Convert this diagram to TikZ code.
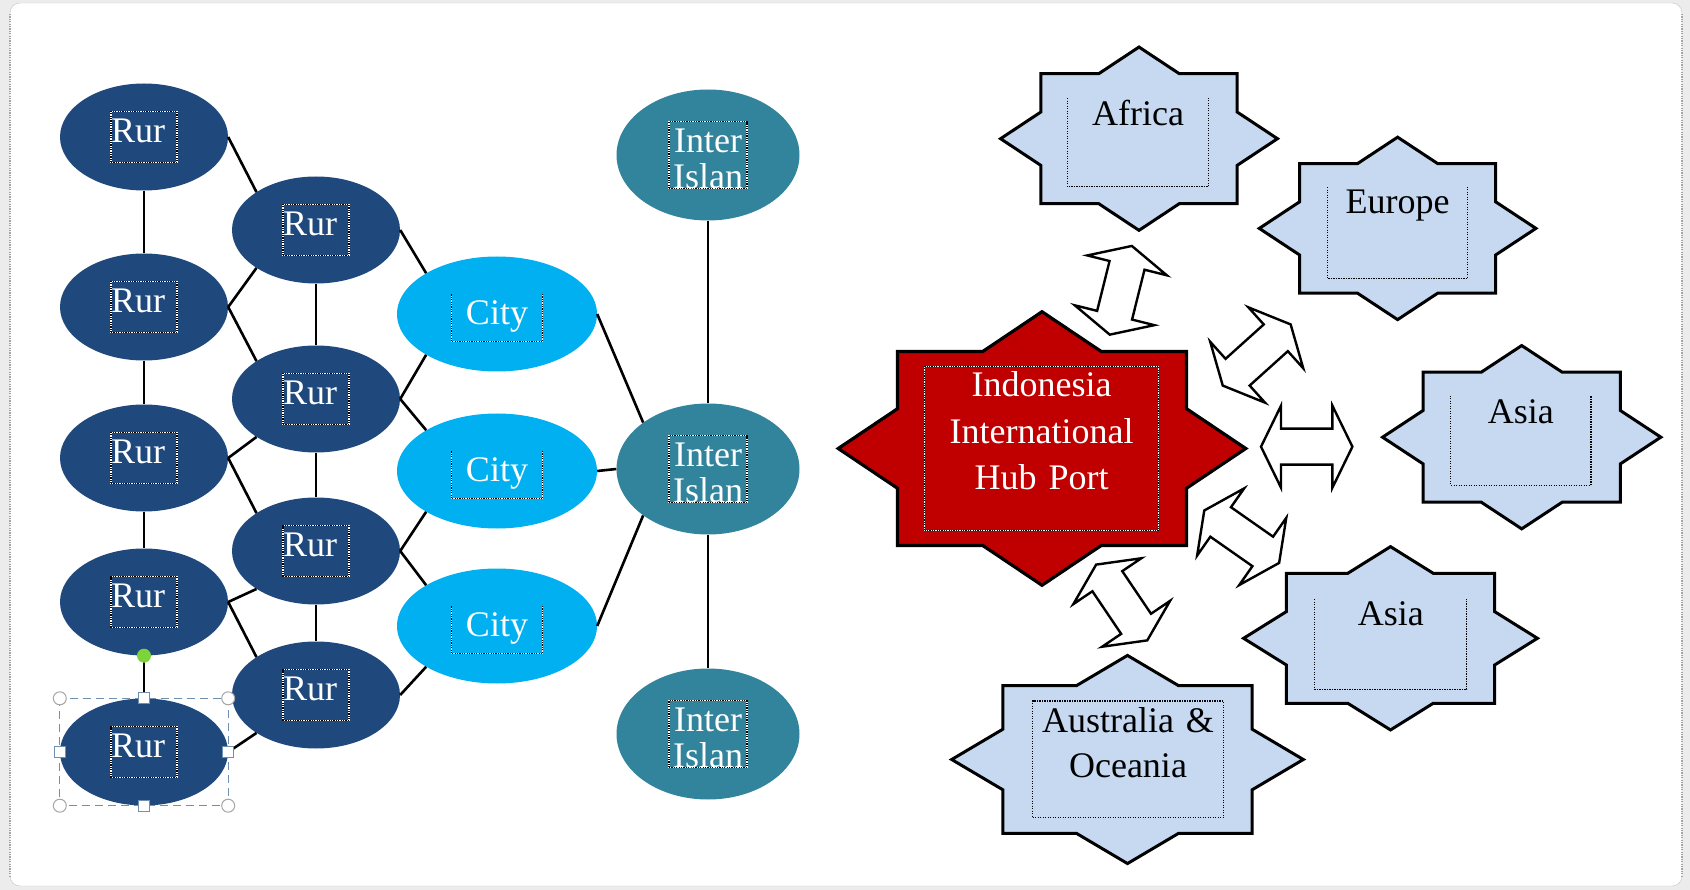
\documentclass[tikz,border=0pt]{standalone}
\usepackage{fontspec}
\setmainfont{Liberation Serif}
\usetikzlibrary{shapes.geometric}

\definecolor{rurblue}{HTML}{1F497D}
\definecolor{cityblue}{HTML}{00B0F0}
\definecolor{interteal}{HTML}{31849B}
\definecolor{hubred}{HTML}{C00000}
\definecolor{starblue}{HTML}{C6D9F1}
\definecolor{selgray}{HTML}{6F8FB0}
\definecolor{rotgreen}{HTML}{7DD33A}

\newcommand\eightstar[5]{%
  \path[#1] ({#2},{#3-1.41*#5}) -- ({#2+0.41*#4},{#3-#5}) -- ({#2+#4},{#3-#5})
    -- ({#2+#4},{#3-0.41*#5}) -- ({#2+1.41*#4},{#3}) -- ({#2+#4},{#3+0.41*#5})
    -- ({#2+#4},{#3+#5}) -- ({#2+0.41*#4},{#3+#5}) -- ({#2},{#3+1.41*#5})
    -- ({#2-0.41*#4},{#3+#5}) -- ({#2-#4},{#3+#5}) -- ({#2-#4},{#3+0.41*#5})
    -- ({#2-1.41*#4},{#3}) -- ({#2-#4},{#3-0.41*#5}) -- ({#2-#4},{#3-#5})
    -- ({#2-0.41*#4},{#3-#5}) -- cycle;}
\newcommand\portarrow[3]{%
  \draw[blockarrow, shift={(#1,#2)}, rotate=#3] (45.7,0) -- (25.7,41) -- (25.7,18)
    -- (-25.7,18) -- (-25.7,41) -- (-45.7,0) -- (-25.7,-41) -- (-25.7,-18)
    -- (25.7,-18) -- (25.7,-41) -- cycle;}

\begin{document}
\begin{tikzpicture}[
  x=1pt, y=-1pt,
  every node/.style={inner sep=0pt, font=\fontsize{36}{46}\selectfont},
  rur/.style={ellipse, fill=rurblue, minimum width=168pt, minimum height=107pt},
  city/.style={ellipse, fill=cityblue, minimum width=200pt, minimum height=115pt},
  inter/.style={ellipse, fill=interteal, minimum width=183pt, minimum height=131pt},
  antsbox/.style={draw=black, line width=1.2pt, dash pattern=on 1.2pt off 1.2pt,
    preaction={draw=white, solid, line width=1.2pt}},
  starbox/.style={draw=black, line width=1.1pt, dash pattern=on 1.2pt off 1.3pt},
  rurtext/.style={antsbox, text=white, text width=66pt, text height=31pt,
    text depth=20pt, align=left},
  citytext/.style={text=white, text width=91pt, text height=30pt,
    text depth=16.7pt, align=center},
  intertext/.style={antsbox, text=white, text width=78pt, text height=31pt,
    text depth=35.6pt, align=center, font=\fontsize{36}{35.5}\selectfont},
  startext/.style={text=black, align=center},
  link/.style={line width=2.6pt},
  hubshape/.style={draw=black, line width=3.2pt, fill=hubred, line join=miter},
  starshape/.style={draw=black, line width=3pt, fill=starblue, line join=miter},
  blockarrow/.style={draw=black, line width=2.4pt, fill=white, line join=miter},
  selframe/.style={draw=selgray, line width=1.3pt, dash pattern=on 8pt off 5pt},
  circhandle/.style={circle, draw=gray!70, fill=white, line width=1pt, minimum size=13pt},
  sqhandle/.style={rectangle, draw=selgray, fill=white, line width=1pt, minimum size=11pt},
  rothandle/.style={circle, fill=rotgreen, minimum size=14pt}
]
\useasboundingbox (0,0) rectangle (1690,890);
\fill[gray!15] (0,0) rectangle (1690,890);
\draw[gray!45, fill=white, rounded corners=10pt] (10,3) rectangle (1682,886);
\draw[gray!70, line width=1.2pt, dash pattern=on 1.2pt off 1.2pt] (10,14) -- (10,876);
\draw[gray!70, line width=1.2pt, dash pattern=on 1.2pt off 1.2pt] (1682,14) -- (1682,876);

\node[rur] (ra1) at (144,137) {};
\node[rur] (ra2) at (144,307) {};
\node[rur] (ra3) at (144,458) {};
\node[rur] (ra4) at (144,602) {};
\node[rur] (ra5) at (144,752) {};
\node[rur] (rb1) at (316,230) {};
\node[rur] (rb2) at (316,399) {};
\node[rur] (rb3) at (316,551) {};
\node[rur] (rb4) at (316,695) {};
\node[city] (c1) at (497,314) {};
\node[city] (c2) at (497,471) {};
\node[city] (c3) at (497,626) {};
\node[inter] (i1) at (708,155) {};
\node[inter] (i2) at (708,469) {};
\node[inter] (i3) at (708,734) {};

\draw[link] (ra1) -- (ra2);
\draw[link] (ra2) -- (ra3);
\draw[link] (ra3) -- (ra4);
\draw[link] (ra4) -- (ra5);
\draw[link] (rb1) -- (rb2);
\draw[link] (rb2) -- (rb3);
\draw[link] (rb3) -- (rb4);
\draw[link] (ra1.east) -- (rb1.north west);
\draw[link] (rb1.south west) -- (ra2.east);
\draw[link] (ra2.east) -- (rb2.north west);
\draw[link] (rb2.south west) -- (ra3.east);
\draw[link] (ra3.east) -- (rb3.north west);
\draw[link] (rb3.south west) -- (ra4.east);
\draw[link] (ra4.east) -- (rb4.north west);
\draw[link] (rb4.south west) -- (ra5.east);
\draw[link] (rb1.east) -- (c1.north west);
\draw[link] (rb2.east) -- (c1.south west);
\draw[link] (rb2.east) -- (c2.north west);
\draw[link] (rb3.east) -- (c2.south west);
\draw[link] (rb3.east) -- (c3.north west);
\draw[link] (rb4.east) -- (c3.south west);
\draw[link] (c1.east) -- (i2.north west);
\draw[link] (c2.east) -- (i2.west);
\draw[link] (c3.east) -- (i2.south west);
\draw[link] (i1) -- (i2);
\draw[link] (i2) -- (i3);

\node[rurtext] (ra1t) at (ra1) {Rur};
\node[rurtext] (ra2t) at (ra2) {Rur};
\node[rurtext] (ra3t) at (ra3) {Rur};
\node[rurtext] (ra4t) at (ra4) {Rur};
\node[rurtext] (ra5t) at (ra5) {Rur};
\node[rurtext] (rb1t) at (rb1) {Rur};
\node[rurtext] (rb2t) at (rb2) {Rur};
\node[rurtext] (rb3t) at (rb3) {Rur};
\node[rurtext] (rb4t) at (rb4) {Rur};
\node[citytext] (c1t) at ([yshift=-4pt]c1) {City};
\node[citytext] (c2t) at ([yshift=-4pt]c2) {City};
\node[citytext] (c3t) at ([yshift=-4pt]c3) {City};
\draw[antsbox] (c1t.north west) |- (c1t.south east) -- (c1t.north east);
\draw[antsbox] (c2t.north west) |- (c2t.south east) -- (c2t.north east);
\draw[antsbox] (c3t.north west) |- (c3t.south east) -- (c3t.north east);
\node[intertext] (i1t) at (i1) {Inter\\Islan};
\node[intertext] (i2t) at (i2) {Inter\\Islan};
\node[intertext] (i3t) at (i3) {Inter\\Islan};

\draw[selframe] (ra5.west |- ra5.north) rectangle (ra5.east |- ra5.south);
\node[circhandle] (hnw) at (ra5.west |- ra5.north) {};
\node[circhandle] (hne) at (ra5.east |- ra5.north) {};
\node[circhandle] (hsw) at (ra5.west |- ra5.south) {};
\node[circhandle] (hse) at (ra5.east |- ra5.south) {};
\node[sqhandle] (hn) at (ra5.north) {};
\node[sqhandle] (hs) at (ra5.south) {};
\node[sqhandle] (hw) at (ra5.west) {};
\node[sqhandle] (he) at (ra5.east) {};
\node[rothandle] (hrot) at (ra4.south) {};

\eightstar{hubshape}{1042}{448.5}{144.5}{97}
\node[antsbox, text=white, align=center, text width=234pt, text height=30.3pt,
  text depth=133.6pt, font=\fontsize{36}{46.3}\selectfont] (hub) at (1041.6,448.4)
  {Indonesia\\International\\Hub Port};

\eightstar{starshape}{1139}{138.7}{98.2}{65}
\node[startext, text width=141pt, text height=27pt, text depth=61pt] (africa) at (1138,142.5) {Africa};
\draw[starbox] (africa.north west) |- (africa.south east) -- (africa.north east);

\eightstar{starshape}{1397.6}{228.4}{98.1}{64.7}
\node[startext, text width=140pt, text height=26pt, text depth=65pt] (europe) at (1397.5,232.8) {Europe};
\draw[starbox] (europe.north west) |- (europe.south east) -- (europe.north east);

\eightstar{starshape}{1521.7}{437.2}{98.7}{65}
\node[startext, text width=140pt, text height=28pt, text depth=61pt] (asiaeast) at (1520.8,440.5) {Asia};
\draw[starbox] (asiaeast.north west) |- (asiaeast.south east) -- (asiaeast.north east);

\eightstar{starshape}{1390.5}{638.3}{104.2}{65}
\node[startext, text width=151.7pt, text height=25.7pt, text depth=64.3pt] (asiasouth) at (1390.8,644.3) {Asia};
\draw[starbox] (asiasouth.north west) |- (asiasouth.south east) -- (asiasouth.north east);

\eightstar{starshape}{1127.5}{759.5}{124.7}{73.8}
\node[startext, starbox, text width=190.6pt, text height=31.3pt, text depth=85.4pt,
  font=\fontsize{36}{45}\selectfont] (oceania) at (1128,759.3) {Australia \&\\Oceania};

\portarrow{1120.8}{290.3}{76}
\portarrow{1256.7}{355}{42}
\portarrow{1306.7}{446.7}{0}
\portarrow{1241.7}{536.7}{-35}
\portarrow{1121.7}{602.5}{-56}
\end{tikzpicture}
\end{document}
